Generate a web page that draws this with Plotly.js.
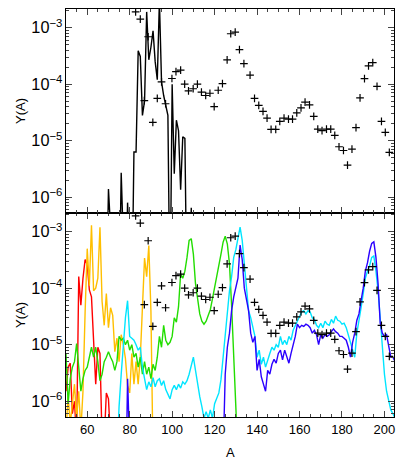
<!DOCTYPE html>
<html>
<head>
<meta charset="utf-8">
<script src="https://cdn.plot.ly/plotly-3.0.1.min.js"></script>
<style>
  html, body { margin: 0; padding: 0; background: #fff; }
  #chart { width: 415px; height: 475px; }
</style>
</head>
<body>
<div id="chart"></div>
<script>
// values below the axis floor are kept at 1e-8 so the line just drops out of the frame
const LOW = 1e-8;

// measured points (the "+" marks), shown in both panels
const measX = [82.8,85,86.9,88.7,90.9,93,95,96.9,99.9,101.8,104,105.9,107.7,109.9,111.9,113.8,115.8,117.8,119.8,121.7,
  123.7,125.9,127.6,129.7,131.7,133.8,136.7,138.8,140.8,142.8,144.7,146.6,148.8,150.7,152.7,154.8,156.7,158.7,160.7,162.6,
  164.7,166.7,168.6,170.6,172.7,174.7,176.6,178.6,180.7,182.6,184.7,186.6,188.5,190.6,192.5,194.5,196.5,198.6,200.4,202.3];
const measY = [1.9e-3,1.42e-3,5.1e-5,6.9e-4,2.1e-5,5.6e-5,1.1e-4,4.5e-5,1.26e-4,1.67e-4,1.77e-4,1.0e-4,7.6e-5,8.3e-5,1.0e-4,7.2e-5,6.3e-5,6.9e-5,4.0e-5,7.8e-5,
  1.02e-4,2.7e-4,7.8e-4,8.3e-4,4.1e-4,2.3e-4,1.44e-4,5.6e-5,4.2e-5,3.3e-5,2.5e-5,1.58e-5,1.58e-5,2.2e-5,2.5e-5,2.4e-5,2.4e-5,3.1e-5,3.8e-5,4.8e-5,
  4.3e-5,2.7e-5,1.6e-5,1.5e-5,1.6e-5,1.6e-5,1.24e-5,7.8e-6,6.7e-6,3.7e-6,7.1e-6,1.7e-5,5.7e-5,1.25e-4,2.1e-4,2.4e-4,9.1e-5,2.2e-5,1.4e-5,6.2e-6];

// top panel: black curve
const topX = [66,67,68,69,70,71,72,73,74,75,76,77,78,79,80,81,82,83,84,85,86,87,88,89,90,91,92,93,94,95,96,97,98,99,100,101,102,103,104,105,106,107,108,109,110];
const topY = [LOW,LOW,LOW,LOW,1.4e-6,LOW,LOW,LOW,LOW,LOW,2.7e-6,LOW,LOW,8e-7,LOW,LOW,6.3e-6,6.3e-6,3.9e-4,3.1e-4,2.8e-5,5e-5,1.9e-3,2.7e-4,4.5e-4,8.8e-4,2.5e-4,1.2e-4,3e-3,1.1e-4,
  6.3e-5,4.2e-5,2.8e-5,LOW,1e-4,2.6e-6,2.3e-5,1.5e-5,1.35e-6,1.17e-5,1.1e-5,LOW,LOW,6.5e-7,LOW];

// bottom panel curves
const redX = [50,51,52,53,54,55,56,57,58,59,60,61,62,63,64,65,66,67,68,69,70,71];
const redY = [1.5e-6,4e-6,4.7e-6,6e-7,1e-6,2e-7,1.6e-4,5e-5,1.5e-4,3.2e-4,2.6e-4,9.3e-5,7e-5,1.4e-5,2e-6,9e-6,7e-6,2e-7,2e-7,1.4e-6,1.1e-6,2e-7];

const orangeX = [50,51,52,53,54,55,56,57,58,59,60,61,62,63,64,65,66,67,68,69,70,71,72,73,74,75,76,77,78,79,80,81,82,83,84,85,86,87,88,89,90,91];
const orangeY = [3e-7,1.2e-6,4e-7,8e-7,2e-6,5e-7,1.5e-6,3e-7,1.5e-6,3.8e-5,5e-4,1.1e-4,1.3e-3,9e-5,1e-4,1.5e-4,1.2e-3,5.8e-5,2.2e-5,8e-5,
  2e-5,4.5e-5,3.3e-5,7.5e-6,1.3e-5,5e-6,1.5e-5,1e-5,5.7e-6,1.9e-6,1.4e-6,7e-6,2e-6,5e-6,2e-6,6e-6,4e-5,3.4e-4,1.6e-4,5.7e-4,4e-5,1e-7];

const greenX = [50,51,52,53,54,55,56,57,58,59,60,61,62,63,64,65,66,67,68,69,70,71,72,73,74,75,76,77,78,79,80,81,82,83,84,85,86,87,88,89,90,
  91,92,93,94,95,96,97,98,99,100,101,102,103,104,105,106,107,108,109,110,111,112,113,114,115,116,117,118,119,120,121,122,123,124,125,126,127,128,129,130,131];
const greenY = [7e-6,9e-7,2.5e-6,4e-6,5e-6,1.05e-5,4e-6,1.5e-6,2.5e-6,3.5e-6,4e-6,6e-6,9e-6,6e-6,9e-6,5e-6,2.3e-6,3e-6,5e-6,6e-6,7.5e-6,
  6e-6,5e-6,3.5e-6,5e-6,1.4e-5,1.2e-5,1.3e-5,1e-5,1.2e-5,8e-6,1e-5,6e-6,7e-6,4e-6,6e-6,3e-6,5e-6,3e-6,4e-6,2.5e-6,
  4.5e-6,3.5e-6,6e-6,1.4e-5,9e-6,2.2e-5,1.2e-5,1e-5,1.1e-5,1.4e-5,3e-5,2.5e-5,4.7e-5,1.8e-4,1.5e-4,2e-4,3.5e-4,7e-4,7.5e-4,4e-4,
  1.2e-4,6e-5,3.5e-5,2.6e-5,2.3e-5,2.6e-5,3.2e-5,4.2e-5,6.5e-5,1e-4,1.5e-4,2.4e-4,4e-4,6.5e-4,8.3e-4,6e-4,2.7e-4,5e-5,6e-6,1e-6,1e-7];

const cyanX = [74,75,76,77,78,79,80,81,82,83,84,85,86,87,88,89,90,91,92,93,94,95,96,97,98,99,100,101,102,103,104,105,106,107,108,109,110,
  111,112,113,114,115,116,117,118,119,120,121,122,123,124,125,126,127,128,129,130,131,132,133,134,135,136,137,138,139,140,
  141,142,143,144,145,146,147,148,149,150,151,152,153,154,155,156,157,158,159,160,161,162,163,164,165,166,167,168,169,170,
  171,172,173,174,175,176,177,178,179,180,181,182,183,184,185,186,187,188,189,190,191,192,193,194,195,196,197,198,199,200,
  201,202,203,204,205];
const cyanY = [1e-7,8e-7,3e-6,1e-5,3e-5,6e-5,1.4e-5,1.3e-5,1.2e-5,1e-5,8e-6,9e-6,4e-6,2.5e-6,1.6e-6,2.2e-6,1.8e-6,2.6e-6,1.8e-6,2.3e-6,2.5e-6,1.9e-6,2.3e-6,1.6e-6,1.3e-6,1.1e-6,1.6e-6,1.9e-6,1.6e-6,2e-6,1.7e-6,2.2e-6,2e-6,2.3e-6,3e-6,4.5e-6,6e-6,
  3.5e-6,2e-6,1.2e-6,8e-7,5e-7,6.5e-7,5e-7,7e-7,5e-7,9e-7,1.1e-6,1.4e-6,2.4e-6,6e-6,1.5e-5,4e-5,9e-5,1.6e-4,3.5e-4,4.8e-4,8e-4,1.2e-3,7e-4,2.5e-4,9e-5,4e-5,3e-5,2e-5,1.4e-5,6e-6,
  8e-6,4.5e-6,6e-6,4e-6,5.5e-6,7e-6,9e-6,8e-6,1e-5,9e-6,1.4e-5,1e-5,1.2e-5,1e-5,1.4e-5,1.2e-5,1.8e-5,2.2e-5,2.6e-5,3.2e-5,3.8e-5,4e-5,3.5e-5,4e-5,3.8e-5,3e-5,2.8e-5,2.2e-5,2e-5,2.4e-5,
  2e-5,2.6e-5,2.3e-5,2.2e-5,2.8e-5,2.4e-5,3.2e-5,2.7e-5,2.6e-5,2.3e-5,2.4e-5,2e-5,1.5e-5,1.1e-5,8e-6,6e-6,1.6e-5,3e-5,4.5e-5,8e-5,1.5e-4,2e-4,2.5e-4,3.5e-4,3.7e-4,2e-4,9e-5,3e-5,8e-6,3e-6,
  1.5e-6,1e-6,7e-7,6e-7,5e-7];

const blueX = [77,78,79,80,81,123,124,125,126,127,128,129,130,131,132,133,134,135,136,137,138,139,140,
  141,142,143,144,145,146,147,148,149,150,151,152,153,154,155,156,157,158,159,160,161,162,163,164,165,166,167,168,169,170,
  171,172,173,174,175,176,177,178,179,180,181,182,183,184,185,186,187,188,189,190,191,192,193,194,195,196,197,198,199,200,
  201,202,203,204,205];
const blueY = [LOW,LOW,2.5e-6,LOW,LOW,LOW,1e-7,3e-6,9e-6,1.6e-5,4e-5,7e-5,1e-4,1.5e-4,5.8e-4,3.2e-4,1e-4,6e-5,4e-5,1.6e-5,1.1e-5,1.4e-5,3.5e-6,
  5.5e-6,2.7e-6,2e-6,1.5e-6,3.5e-6,3e-6,4.5e-6,5.5e-6,4.7e-6,7e-6,8e-6,5.4e-6,8e-6,6e-6,4.7e-6,7e-6,1e-5,1.4e-5,2.3e-5,2e-5,2.2e-5,2.1e-5,2.3e-5,2.2e-5,2e-5,1.6e-5,1.8e-5,1.5e-5,1e-5,1.5e-5,
  1.3e-5,1.5e-5,1.4e-5,1.5e-5,1.7e-5,1.9e-5,1.7e-5,1.6e-5,1.4e-5,1.4e-5,1.3e-5,1.2e-5,9e-6,6e-6,1.1e-5,1.6e-5,2.7e-5,3.5e-5,6e-5,1e-4,2e-4,2.8e-4,4.5e-4,6.2e-4,6.6e-4,3.5e-4,1.2e-4,2.4e-5,1.6e-5,1.4e-5,
  1.5e-5,1e-5,6e-6,6e-6,5e-6];

const FONT = { family: 'Liberation Sans, Arial, sans-serif', size: 13, color: '#000' };
const X_RANGE = [50, 204.5];
const Y_RANGE = [-6.28, -2.67];

function line(x, y, color, ax) {
  return { x, y, xaxis: ax[0], yaxis: ax[1], type: 'scatter', mode: 'lines',
    line: { color, width: 1.4 }, hoverinfo: 'skip', showlegend: false };
}
function crosses(ax) {
  return { x: measX, y: measY, xaxis: ax[0], yaxis: ax[1], type: 'scatter', mode: 'markers',
    marker: { symbol: 'cross-thin-open', size: 5.5, color: '#000', line: { color: '#000', width: 1.2 } },
    hoverinfo: 'skip', showlegend: false };
}
// axis titles as annotations so they sit where the original puts them
function yTitle(yMid) {
  return { text: 'Y(A)', xref: 'paper', yref: 'paper', x: 0, y: yMid, xshift: -46,
    textangle: -90, showarrow: false, font: FONT, xanchor: 'center', yanchor: 'middle' };
}

const TOP = ['x2', 'y2'], BOT = ['x', 'y'];
const traces = [
  line(topX, topY, '#000000', TOP),
  crosses(TOP),
  line(redX, redY, '#ff0000', BOT),
  line(orangeX, orangeY, '#ffbf00', BOT),
  line(greenX, greenY, '#22dd00', BOT),
  line(cyanX, cyanY, '#00e5ff', BOT),
  line(blueX, blueY, '#2a00ff', BOT),
  crosses(BOT)
];

const xBase = {
  range: X_RANGE, dtick: 20, tick0: 0, ticks: 'inside', ticklen: 6, tickwidth: 1,
  showline: true, linecolor: '#000', linewidth: 1, mirror: 'allticks', zeroline: false, showgrid: false,
  minor: { dtick: 5, ticks: 'inside', ticklen: 3, tickwidth: 1, showgrid: false },
  tickfont: FONT
};
const yBase = {
  type: 'log', range: Y_RANGE, dtick: 1, exponentformat: 'power',
  ticks: 'inside', ticklen: 6, tickwidth: 1,
  showline: true, linecolor: '#000', linewidth: 1, mirror: 'allticks', zeroline: false, showgrid: false,
  minor: { dtick: 'D1', ticks: 'inside', ticklen: 3, tickwidth: 1, showgrid: false },
  tickfont: FONT
};

const layout = {
  width: 415, height: 475,
  margin: { l: 66, r: 21, t: 9, b: 58 },
  paper_bgcolor: '#fff', plot_bgcolor: '#fff',
  font: FONT, showlegend: false,
  xaxis: Object.assign({}, xBase, { anchor: 'y', domain: [0, 1] }),
  xaxis2: Object.assign({}, xBase, { anchor: 'y2', domain: [0, 1], matches: 'x', showticklabels: false }),
  yaxis: Object.assign({}, yBase, { anchor: 'x', domain: [0, 0.5] }),
  yaxis2: Object.assign({}, yBase, { anchor: 'x2', domain: [0.5, 1] }),
  annotations: [
    yTitle(0.75),
    yTitle(0.25),
    { text: 'A', xref: 'paper', yref: 'paper', x: 0.5, y: 0, yshift: -35, showarrow: false,
      font: FONT, xanchor: 'center', yanchor: 'middle' }
  ]
};

Plotly.newPlot('chart', traces, layout, { displayModeBar: false, staticPlot: true });
</script>
</body>
</html>
